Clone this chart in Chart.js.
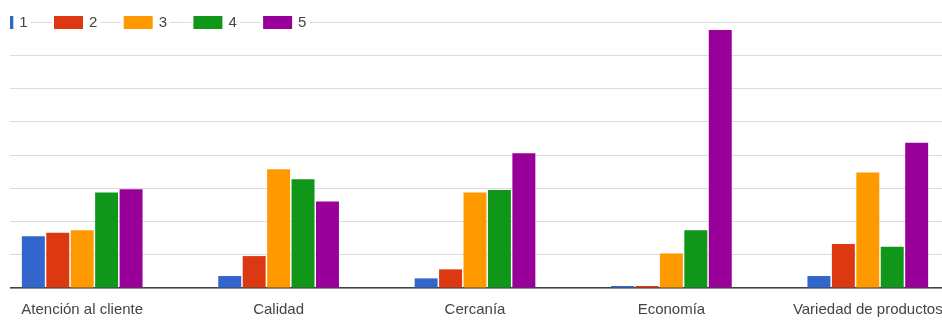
<!DOCTYPE html>
<html>
<head>
<meta charset="utf-8">
<script src="https://cdn.jsdelivr.net/npm/chart.js@4"></script>
<style>
  html, body { margin: 0; padding: 0; background: #fff; }
  body { width: 942px; height: 320px; overflow: hidden; position: relative; }
  #clip { position: absolute; left: 10px; top: 0; width: 932px; height: 320px; overflow: hidden; }
  #wrap { position: absolute; left: -26px; top: 0; width: 982px; height: 320px; }
</style>
</head>
<body>
<div id="clip"><div id="wrap"><canvas id="c" width="982" height="320"></canvas></div></div>
<script>
const categories = ["Atención al cliente", "Calidad", "Cercanía", "Economía", "Variedad de productos"];
const seriesLabels = ["1", "2", "3", "4", "5"];
const seriesColors = ["#3366cc", "#dc3912", "#ff9900", "#109618", "#990099"];
const values1 = [15.6, 3.6, 2.9, 0.6, 3.6];
const values2 = [16.6, 9.6, 5.6, 0.6, 13.2];
const values3 = [17.4, 35.7, 28.7, 10.4, 34.7];
const values4 = [28.7, 32.7, 29.5, 17.4, 12.4];
const values5 = [29.7, 26.0, 40.5, 77.6, 43.7];
const seriesValues = [values1, values2, values3, values4, values5];
const yMax = 80;
const yStep = 10;

const FONT = "'Liberation Sans', Arial, sans-serif";

const legendPlugin = {
  id: 'topLegend',
  afterDraw(chart) {
    const ctx = chart.ctx;
    const y = chart.chartArea.top;
    const swW = 29, swH = 13, pitch = 69.7;
    ctx.save();
    ctx.font = "15px " + FONT;
    ctx.textBaseline = "middle";
    chart.data.datasets.forEach((ds, i) => {
      const x0 = chart.chartArea.left + 0.3 + pitch * i;
      const tw = ctx.measureText(ds.label).width;
      ctx.fillStyle = "#fff";
      ctx.fillRect(x0 - 2, y - 9, swW + 6 + tw + 5, 18);
      ctx.fillStyle = ds.backgroundColor;
      ctx.fillRect(x0, y - swH / 2 + 0.5, swW, swH);
      ctx.fillStyle = "#444";
      ctx.fillText(ds.label, x0 + swW + 6, y + 1);
    });
    ctx.restore();
  }
};

new Chart(document.getElementById('c'), {
  type: 'bar',
  data: {
    labels: categories,
    datasets: seriesLabels.map((lab, i) => ({
      label: lab,
      data: seriesValues[i],
      backgroundColor: seriesColors[i],
      borderWidth: 0,
      categoryPercentage: 0.622,
      barPercentage: 0.94
    }))
  },
  options: {
    responsive: false,
    animation: false,
    devicePixelRatio: 1,
    layout: { padding: { top: 22, bottom: 0, left: 0, right: 0 } },
    plugins: { legend: { display: false }, tooltip: { enabled: false } },
    scales: {
      x: {
        afterFit(scale) { scale.height = 32; },
        grid: { display: false, drawTicks: false },
        border: { display: true, color: "#444", width: 1.5 },
        ticks: { color: "#444", padding: 13, maxRotation: 0, autoSkip: false, font: { family: FONT, size: 15 } }
      },
      y: {
        afterFit(scale) { scale.width = 0; },
        min: 0, max: yMax,
        grid: { color: "#dcdcdc", lineWidth: 1, drawTicks: false },
        border: { display: false },
        ticks: { display: false, stepSize: yStep }
      }
    }
  },
  plugins: [legendPlugin]
});
</script>
</body>
</html>
